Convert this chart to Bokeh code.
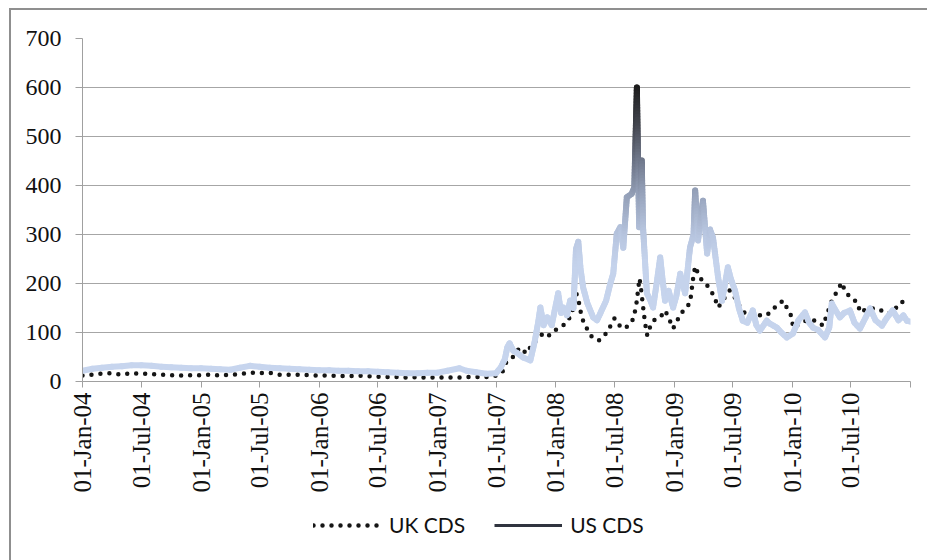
import math
import numpy as np
import pandas as pd
from bokeh.plotting import figure
from bokeh.layouts import column
from bokeh.models import (Range1d, FixedTicker, DatetimeTickFormatter, Legend,
                          LegendItem, ColumnDataSource)
from bokeh.embed import file_html
from bokeh.resources import INLINE

# ---------------- data ----------------
uk_dates = [
    "2004-01-01", "2004-02-01", "2004-03-01", "2004-04-01", "2004-05-01", "2004-06-01",
    "2004-07-01", "2004-08-01", "2004-09-01", "2004-10-01", "2004-11-01", "2004-12-01",
    "2005-01-01", "2005-02-01", "2005-03-01", "2005-04-01", "2005-05-01", "2005-06-01",
    "2005-07-01", "2005-08-01", "2005-09-01", "2005-10-01", "2005-11-01", "2005-12-01",
    "2006-01-01", "2006-02-01", "2006-03-01", "2006-04-01", "2006-05-01", "2006-06-01",
    "2006-07-01", "2006-08-01", "2006-09-01", "2006-10-01", "2006-11-01", "2006-12-01",
    "2007-01-01", "2007-02-01", "2007-03-01", "2007-04-01", "2007-05-01", "2007-06-01",
    "2007-07-01", "2007-07-20", "2007-08-01", "2007-08-15", "2007-08-25", "2007-09-12",
    "2007-09-25", "2007-10-03", "2007-10-20", "2007-11-12", "2007-11-25", "2007-12-13",
    "2008-01-01", "2008-01-13", "2008-02-01", "2008-02-12", "2008-02-25", "2008-03-05",
    "2008-03-12", "2008-03-22", "2008-04-05", "2008-04-23", "2008-05-05", "2008-05-15",
    "2008-06-05", "2008-06-20", "2008-07-01", "2008-07-12", "2008-07-25", "2008-08-10",
    "2008-08-25", "2008-09-05", "2008-09-16", "2008-09-20", "2008-09-25", "2008-10-03",
    "2008-10-10", "2008-10-18", "2008-10-28", "2008-11-08", "2008-11-19", "2008-12-04",
    "2008-12-15", "2008-12-29", "2009-01-15", "2009-02-04", "2009-02-19", "2009-03-01",
    "2009-03-07", "2009-03-15", "2009-03-28", "2009-04-10", "2009-04-22", "2009-05-07",
    "2009-05-17", "2009-06-05", "2009-06-22", "2009-07-14", "2009-07-25", "2009-08-08",
    "2009-09-01", "2009-09-23", "2009-10-14", "2009-11-08", "2009-12-03", "2009-12-31",
    "2010-01-03", "2010-01-25", "2010-02-15", "2010-03-18", "2010-04-06", "2010-05-03",
    "2010-05-20", "2010-06-03", "2010-06-12", "2010-06-28", "2010-07-22", "2010-07-29",
    "2010-08-22", "2010-09-22", "2010-10-20", "2010-11-07", "2010-11-29", "2010-12-21",
]
uk_values = [
    12, 14, 16, 17, 14, 17,
    16, 15, 14, 13, 12, 13,
    13, 14, 12, 14, 15, 18,
    17, 18, 14, 14, 14, 13,
    12, 12, 11, 11, 12, 11,
    10, 9, 9, 8, 9, 8,
    8, 8, 8, 9, 9, 9,
    12, 18, 38, 45, 52, 69,
    62, 57, 75, 90, 100, 94,
    105, 110, 118, 129, 150, 180,
    165, 130, 110, 90, 85, 84,
    98, 115, 129, 118, 108, 112,
    124, 150, 210, 195, 165, 120,
    94, 110, 124, 128, 131, 145,
    130, 108, 130, 151, 159, 212,
    235, 222, 206, 198, 190, 169,
    151, 170, 186, 165, 150, 139,
    145, 135, 135, 151, 165, 131,
    110, 118, 125, 124, 114, 165,
    185, 202, 186, 172, 161, 141,
    149, 149, 139, 141, 161, 165,
]

us_dates = [
    "2004-01-01", "2004-02-01", "2004-03-01", "2004-04-01", "2004-05-01", "2004-06-01",
    "2004-07-01", "2004-08-01", "2004-09-01", "2004-10-01", "2004-11-01", "2004-12-01",
    "2005-01-01", "2005-02-01", "2005-03-01", "2005-04-01", "2005-05-01", "2005-06-01",
    "2005-07-01", "2005-08-01", "2005-09-01", "2005-10-01", "2005-11-01", "2005-12-01",
    "2006-01-01", "2006-02-01", "2006-03-01", "2006-04-01", "2006-05-01", "2006-06-01",
    "2006-07-01", "2006-08-01", "2006-09-01", "2006-10-01", "2006-11-01", "2006-12-01",
    "2007-01-01", "2007-02-01", "2007-03-10", "2007-04-01", "2007-05-01", "2007-06-01",
    "2007-07-01", "2007-07-15", "2007-07-28", "2007-08-05", "2007-08-12", "2007-08-23",
    "2007-09-05", "2007-09-23", "2007-10-15", "2007-10-28", "2007-11-08", "2007-11-15",
    "2007-11-25", "2007-12-06", "2007-12-20", "2008-01-09", "2008-01-18", "2008-01-25",
    "2008-02-05", "2008-02-15", "2008-02-25", "2008-03-04", "2008-03-11", "2008-03-18",
    "2008-03-26", "2008-04-08", "2008-04-26", "2008-05-08", "2008-05-18", "2008-06-05",
    "2008-06-18", "2008-06-27", "2008-07-08", "2008-07-19", "2008-07-28", "2008-08-08",
    "2008-08-23", "2008-08-31", "2008-09-08", "2008-09-15", "2008-09-23", "2008-09-27",
    "2008-10-09", "2008-10-20", "2008-10-28", "2008-11-08", "2008-11-19", "2008-11-26",
    "2008-12-04", "2008-12-15", "2008-12-29", "2009-01-08", "2009-01-20", "2009-02-04",
    "2009-02-19", "2009-03-02", "2009-03-07", "2009-03-16", "2009-03-25", "2009-03-31",
    "2009-04-13", "2009-04-22", "2009-05-01", "2009-05-17", "2009-05-29", "2009-06-16",
    "2009-06-25", "2009-07-08", "2009-07-20", "2009-08-01", "2009-08-15", "2009-09-01",
    "2009-09-12", "2009-09-23", "2009-10-14", "2009-10-24", "2009-11-14", "2009-11-28",
    "2009-12-15", "2010-01-03", "2010-01-20", "2010-02-09", "2010-02-22", "2010-03-06",
    "2010-03-22", "2010-04-12", "2010-04-25", "2010-05-03", "2010-05-15", "2010-05-28",
    "2010-06-10", "2010-06-28", "2010-07-12", "2010-07-29", "2010-08-15", "2010-08-29",
    "2010-09-15", "2010-10-05", "2010-10-20", "2010-11-07", "2010-11-25", "2010-12-10",
    "2010-12-21", "2010-12-31",
]
us_values = [
    22, 26, 28, 30, 31, 33,
    33, 32, 30, 29, 28, 27,
    27, 26, 25, 24, 28, 32,
    30, 28, 27, 26, 25, 24,
    23, 23, 22, 22, 21, 21,
    20, 19, 18, 17, 17, 18,
    18, 22, 27, 22, 19, 16,
    17, 28, 45, 70, 78, 63,
    58, 49, 43, 80, 120, 151,
    115, 131, 115, 180, 140, 151,
    135, 165, 150, 270, 285, 230,
    192, 160, 131, 125, 139, 165,
    200, 220, 302, 315, 273, 376,
    383, 396, 600, 315, 451, 315,
    180, 165, 151, 200, 253, 210,
    165, 185, 151, 175, 220, 180,
    273, 300, 390, 288, 340, 369,
    261, 310, 294, 212, 165, 233,
    210, 186, 150, 124, 120, 145,
    115, 104, 124, 118, 110, 100,
    90, 98, 125, 141, 120, 110,
    105, 90, 110, 159, 145, 131,
    140, 145, 120, 108, 130, 149,
    125, 114, 130, 145, 125, 135,
    124, 122,
]

x_tick_dates = ["2004-01-01", "2004-07-01", "2005-01-01", "2005-07-01", "2006-01-01",
                "2006-07-01", "2007-01-01", "2007-07-01", "2008-01-01", "2008-07-01",
                "2009-01-01", "2009-07-01", "2010-01-01", "2010-07-01"]
x_end_date = "2011-01-01"
y_ticks = [0, 100, 200, 300, 400, 500, 600, 700]

series_names = ["UK CDS", "US CDS"]


def to_ms(dates):
    return (pd.to_datetime(dates).values.astype("datetime64[ms]").astype(np.int64)).astype(float)


uk_x = to_ms(uk_dates)
us_x = to_ms(us_dates)
uk_y = np.array(uk_values, dtype=float)
us_y = np.array(us_values, dtype=float)

UK_STYLE = dict(line_color="#151515", line_width=4.5, line_dash="0 9",
                line_cap="round", line_join="round")

# ---------------- main chart ----------------
p = figure(width=916, height=490, x_axis_type="datetime",
           x_range=Range1d(to_ms([x_tick_dates[0]])[0], to_ms([x_end_date])[0]),
           y_range=Range1d(0, 700),
           output_backend="svg", toolbar_location=None,
           min_border_left=71, min_border_right=17, min_border_top=28,
           min_border_bottom=119)
p.outline_line_color = None
p.background_fill_color = "white"
p.border_fill_color = "white"
p.xgrid.visible = False
p.ygrid.grid_line_color = "#a6a6a6"
p.ygrid.grid_line_width = 1

axis_font = "Liberation Serif"
for ax in (p.xaxis[0], p.yaxis[0]):
    ax.axis_line_color = "#a0a0a0"
    ax.major_tick_line_color = "#a0a0a0"
    ax.major_tick_in = 0
    ax.major_label_text_font = axis_font
    ax.major_label_text_font_size = "24px"
    ax.major_label_text_color = "#111111"

p.yaxis.ticker = FixedTicker(ticks=y_ticks)
p.yaxis.major_tick_out = 7
p.yaxis.major_label_standoff = 14
p.yaxis.minor_tick_line_color = None

p.xaxis.ticker = FixedTicker(ticks=list(to_ms(x_tick_dates)),
                             minor_ticks=list(to_ms([x_end_date])))
p.xaxis.major_tick_out = 6
p.xaxis.minor_tick_out = 6
p.xaxis.minor_tick_in = 0
p.xaxis.minor_tick_line_color = "#a0a0a0"
p.xaxis.major_label_standoff = 5
p.xaxis.major_label_text_font_size = "25px"
p.xaxis.major_label_orientation = math.pi / 2
fmt = "%d-%b-%y"
p.xaxis.formatter = DatetimeTickFormatter(
    microseconds=fmt, milliseconds=fmt, seconds=fmt, minsec=fmt, minutes=fmt,
    hourmin=fmt, hours=fmt, days=fmt, months=fmt, years=fmt)

# UK CDS: round dotted black line
p.line(uk_x, uk_y, **UK_STYLE)

# US CDS: thick line with a vertical gradient (light blue -> black as value rises)
stop_v = np.array([0, 240, 300, 380, 450, 520, 600, 700], dtype=float)
stop_c = np.array([[199, 213, 238], [197, 211, 236], [184, 198, 224], [150, 162, 186],
                   [110, 118, 137], [67, 70, 79], [26, 26, 26], [20, 20, 20]], dtype=float)


def grad_color(v):
    r = np.interp(v, stop_v, stop_c[:, 0])
    g = np.interp(v, stop_v, stop_c[:, 1])
    b = np.interp(v, stop_v, stop_c[:, 2])
    return "#%02x%02x%02x" % (int(round(r)), int(round(g)), int(round(b)))


x0s, y0s, x1s, y1s, cols = [], [], [], [], []
for i in range(len(us_x) - 1):
    xa, xb, ya, yb = us_x[i], us_x[i + 1], us_y[i], us_y[i + 1]
    k = max(1, int(math.ceil(abs(yb - ya) / 6.0)))
    for j in range(k):
        t0, t1 = j / k, (j + 1) / k
        sy0 = ya + (yb - ya) * t0
        sy1 = ya + (yb - ya) * t1
        x0s.append(xa + (xb - xa) * t0)
        x1s.append(xa + (xb - xa) * t1)
        y0s.append(sy0)
        y1s.append(sy1)
        cols.append(grad_color(0.5 * (sy0 + sy1)))

seg_src = ColumnDataSource(dict(x0=x0s, y0=y0s, x1=x1s, y1=y1s, c=cols))
p.segment(x0="x0", y0="y0", x1="x1", y1="y1", line_color="c", line_width=6,
          line_cap="round", source=seg_src)

# ---------------- legend strip ----------------
lg = figure(width=916, height=60, x_range=Range1d(0, 1), y_range=Range1d(0, 1),
            output_backend="svg", toolbar_location=None,
            min_border_left=0, min_border_right=0, min_border_top=0, min_border_bottom=0)
lg.axis.visible = False
lg.grid.visible = False
lg.outline_line_color = None
lg.background_fill_color = "white"
lg.border_fill_color = "white"
uk_leg = lg.line(x=[0.5], y=[float("nan")], **UK_STYLE)
us_leg = lg.line(x=[0.5], y=[float("nan")], line_color="#30343f", line_width=3)

legend = Legend(items=[LegendItem(label=series_names[0], renderers=[uk_leg]),
                       LegendItem(label=series_names[1], renderers=[us_leg])],
                orientation="horizontal", location=(231, 23),
                glyph_width=68, glyph_height=20, label_standoff=8, spacing=29,
                padding=4, margin=0, border_line_color=None,
                background_fill_alpha=0,
                label_text_font="Lato", label_text_font_size="21px",
                label_text_color="#111111")
lg.add_layout(legend)

layout = column(p, lg, spacing=0,
                styles={"margin-left": "9px", "margin-top": "8px",
                        "border-left": "2px solid #8f8f8f",
                        "border-top": "2px solid #8f8f8f"})

open("out.html", "w").write(file_html(layout, INLINE))
